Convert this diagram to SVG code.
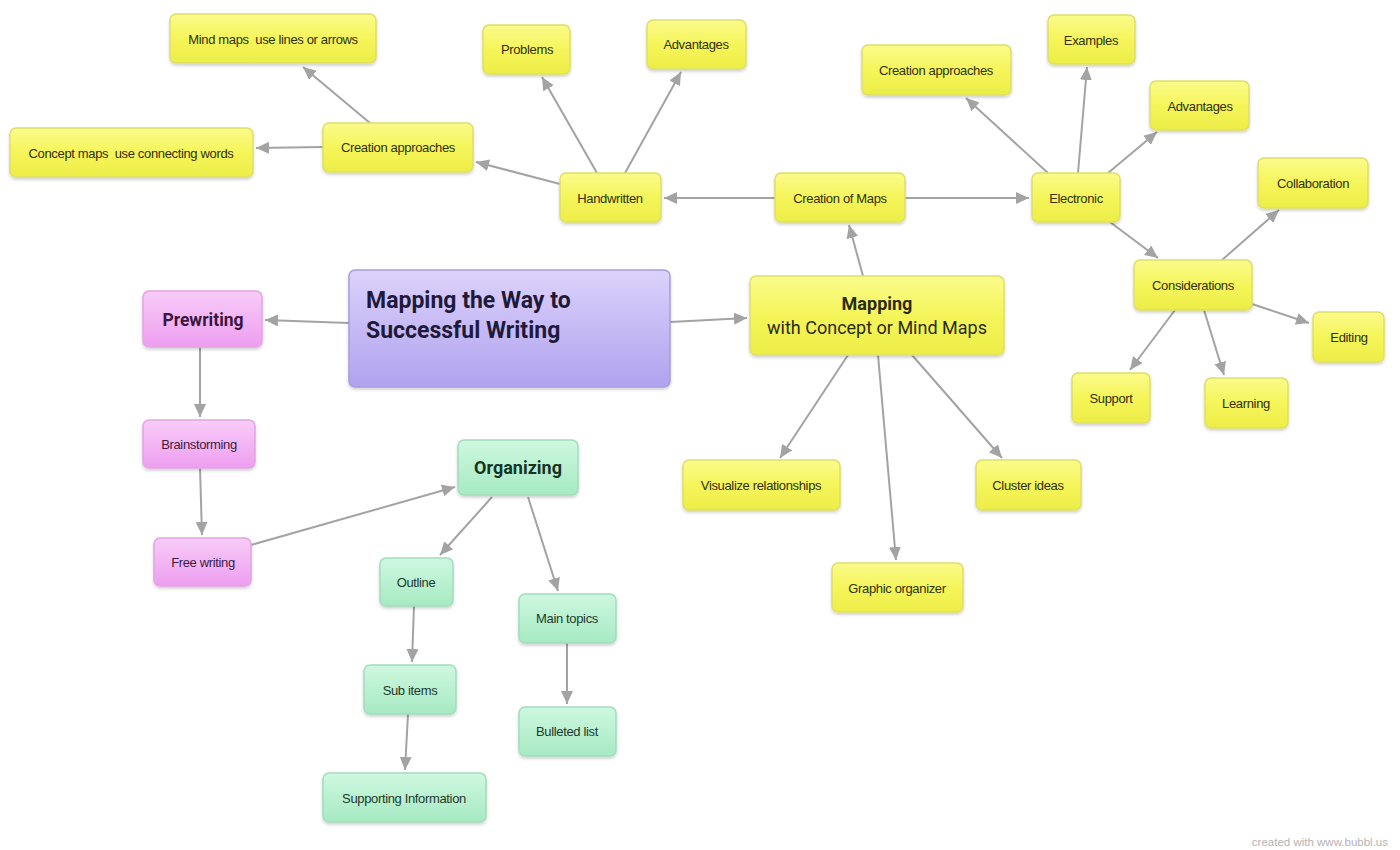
<svg xmlns="http://www.w3.org/2000/svg" width="1400" height="850" viewBox="0 0 1400 850">
<defs>
<linearGradient id="gy" x1="0" y1="0" x2="0" y2="1"><stop offset="0" stop-color="#fbfb8c"/><stop offset="0.5" stop-color="#f5f55a"/><stop offset="1" stop-color="#eded48"/></linearGradient>
<linearGradient id="gp" x1="0" y1="0" x2="0" y2="1"><stop offset="0" stop-color="#dcd2fb"/><stop offset="1" stop-color="#b0a2ee"/></linearGradient>
<linearGradient id="gk" x1="0" y1="0" x2="0" y2="1"><stop offset="0" stop-color="#f8ccf8"/><stop offset="1" stop-color="#ee9ef0"/></linearGradient>
<linearGradient id="gg" x1="0" y1="0" x2="0" y2="1"><stop offset="0" stop-color="#cef8e0"/><stop offset="1" stop-color="#a6eac2"/></linearGradient>
<filter id="sh" x="-10%" y="-10%" width="130%" height="140%"><feDropShadow dx="0" dy="2" stdDeviation="1.5" flood-color="#000" flood-opacity="0.18"/></filter>
<marker id="ah" markerUnits="userSpaceOnUse" markerWidth="14" markerHeight="12" refX="13" refY="6" orient="auto"><path d="M0,0 L13,6 L0,12 z" fill="#a3a3a3"/></marker>
<style>
.y{fill:url(#gy);stroke:#dede6a;stroke-width:1.5;filter:url(#sh)}
.p{fill:url(#gp);stroke:#a99ce0;stroke-width:1.5;filter:url(#sh)}
.k{fill:url(#gk);stroke:#e2a4e2;stroke-width:1.5;filter:url(#sh)}
.g{fill:url(#gg);stroke:#a4dcbc;stroke-width:1.5;filter:url(#sh)}
.t{font-family:"Liberation Sans",Arial,sans-serif;font-size:13px;letter-spacing:-0.35px;text-anchor:middle;dominant-baseline:central}
.ty{fill:#30300c}
.tk{fill:#3c1c3c}
.tg{fill:#1e3a2a}
.b{font-family:Roboto,"Liberation Sans",sans-serif;font-weight:bold}
.c line{stroke:#a3a3a3;stroke-width:2;marker-end:url(#ah)}
</style>
</defs>
<rect width="1400" height="850" fill="#ffffff"/>
<g class="c" id="connectors">
<line x1="349" y1="323" x2="265" y2="320"/>
<line x1="670" y1="322" x2="747" y2="318"/>
<line x1="863" y1="276" x2="849" y2="225"/>
<line x1="775" y1="198" x2="664" y2="198"/>
<line x1="905" y1="198" x2="1029" y2="198"/>
<line x1="560" y1="184" x2="476" y2="162"/>
<line x1="597" y1="173" x2="542" y2="77"/>
<line x1="625" y1="173" x2="681" y2="72"/>
<line x1="370" y1="123" x2="303" y2="67"/>
<line x1="323" y1="147" x2="256" y2="148"/>
<line x1="1048" y1="173" x2="966" y2="98"/>
<line x1="1078" y1="173" x2="1087" y2="67"/>
<line x1="1108" y1="173" x2="1157" y2="132"/>
<line x1="1110" y1="222" x2="1158" y2="258"/>
<line x1="1222" y1="260" x2="1279" y2="210"/>
<line x1="1252" y1="304" x2="1309" y2="323"/>
<line x1="1175" y1="310" x2="1130" y2="370"/>
<line x1="1204" y1="310" x2="1224" y2="375"/>
<line x1="848" y1="355" x2="780" y2="458"/>
<line x1="878" y1="355" x2="896" y2="560"/>
<line x1="912" y1="355" x2="1002" y2="458"/>
<line x1="200" y1="347" x2="200" y2="417"/>
<line x1="200" y1="468" x2="202" y2="535"/>
<line x1="251" y1="545" x2="455" y2="487"/>
<line x1="492" y1="497" x2="440" y2="555"/>
<line x1="528" y1="497" x2="558" y2="591"/>
<line x1="414" y1="606" x2="412" y2="662"/>
<line x1="567" y1="643" x2="567" y2="704"/>
<line x1="408" y1="714" x2="405" y2="770"/>
</g>
<g id="n-title"><rect class="p" x="349" y="270" width="321" height="117" rx="6"/><text class="b" font-size="23" fill="#1f1a3a" x="366" y="308">Mapping the Way to</text><text class="b" font-size="23" fill="#1f1a3a" x="366" y="338">Successful Writing</text></g>
<g id="n-mapping"><rect class="y" x="750" y="276" width="254" height="79" rx="6"/><text class="b" font-size="18" fill="#2a2a10" x="877" y="310" text-anchor="middle">Mapping</text><text font-family="Roboto,'Liberation Sans',sans-serif" font-size="18" fill="#2a2a10" x="877" y="334" text-anchor="middle">with Concept or Mind Maps</text></g>
<g id="n-creation"><rect class="y" x="775" y="173" width="130" height="49" rx="6"/><text class="t ty" x="840" y="198">Creation of Maps</text></g>
<g id="n-handwritten"><rect class="y" x="560" y="173" width="101" height="49" rx="6"/><text class="t ty" x="610" y="198">Handwritten</text></g>
<g id="n-ca-left"><rect class="y" x="323" y="123" width="150" height="49" rx="6"/><text class="t ty" x="398" y="147">Creation approaches</text></g>
<g id="n-mindmaps"><rect class="y" x="170" y="14" width="206" height="49" rx="6"/><text class="t ty" x="273" y="39" xml:space="preserve">Mind maps  use lines or arrows</text></g>
<g id="n-conceptmaps"><rect class="y" x="10" y="128" width="243" height="49" rx="6"/><text class="t ty" x="131" y="153" xml:space="preserve">Concept maps  use connecting words</text></g>
<g id="n-problems"><rect class="y" x="483" y="25" width="87" height="49" rx="6"/><text class="t ty" x="527" y="49">Problems</text></g>
<g id="n-adv-left"><rect class="y" x="647" y="20" width="99" height="49" rx="6"/><text class="t ty" x="696" y="44">Advantages</text></g>
<g id="n-electronic"><rect class="y" x="1032" y="173" width="88" height="49" rx="6"/><text class="t ty" x="1076" y="198">Electronic</text></g>
<g id="n-ca-right"><rect class="y" x="862" y="45" width="149" height="50" rx="6"/><text class="t ty" x="936" y="70">Creation approaches</text></g>
<g id="n-examples"><rect class="y" x="1048" y="15" width="87" height="49" rx="6"/><text class="t ty" x="1091" y="40">Examples</text></g>
<g id="n-adv-right"><rect class="y" x="1150" y="81" width="99" height="49" rx="6"/><text class="t ty" x="1200" y="106">Advantages</text></g>
<g id="n-collab"><rect class="y" x="1258" y="158" width="110" height="50" rx="6"/><text class="t ty" x="1313" y="183">Collaboration</text></g>
<g id="n-consider"><rect class="y" x="1134" y="260" width="118" height="50" rx="6"/><text class="t ty" x="1193" y="285">Considerations</text></g>
<g id="n-editing"><rect class="y" x="1313" y="312" width="71" height="50" rx="6"/><text class="t ty" x="1349" y="337">Editing</text></g>
<g id="n-support"><rect class="y" x="1072" y="373" width="78" height="50" rx="6"/><text class="t ty" x="1111" y="398">Support</text></g>
<g id="n-learning"><rect class="y" x="1205" y="378" width="83" height="50" rx="6"/><text class="t ty" x="1246" y="403">Learning</text></g>
<g id="n-visualize"><rect class="y" x="683" y="460" width="157" height="50" rx="6"/><text class="t ty" x="761" y="485">Visualize relationships</text></g>
<g id="n-cluster"><rect class="y" x="976" y="460" width="105" height="50" rx="6"/><text class="t ty" x="1028" y="485">Cluster ideas</text></g>
<g id="n-graphic"><rect class="y" x="832" y="563" width="131" height="49" rx="6"/><text class="t ty" x="897" y="588">Graphic organizer</text></g>
<g id="n-prewriting"><rect class="k" x="143" y="291" width="119" height="56" rx="6"/><text class="b" font-size="17.5" fill="#3a1640" x="203" y="320" text-anchor="middle" dominant-baseline="central">Prewriting</text></g>
<g id="n-brainstorming"><rect class="k" x="143" y="420" width="112" height="48" rx="6"/><text class="t tk" x="199" y="444">Brainstorming</text></g>
<g id="n-freewriting"><rect class="k" x="154" y="538" width="97" height="48" rx="6"/><text class="t tk" x="203" y="562">Free writing</text></g>
<g id="n-organizing"><rect class="g" x="458" y="440" width="120" height="55" rx="6"/><text class="b" font-size="18" fill="#163424" x="518" y="467" text-anchor="middle" dominant-baseline="central">Organizing</text></g>
<g id="n-outline"><rect class="g" x="380" y="558" width="73" height="48" rx="6"/><text class="t tg" x="416" y="582">Outline</text></g>
<g id="n-maintopics"><rect class="g" x="519" y="594" width="97" height="49" rx="6"/><text class="t tg" x="567" y="618">Main topics</text></g>
<g id="n-subitems"><rect class="g" x="364" y="665" width="92" height="49" rx="6"/><text class="t tg" x="410" y="690">Sub items</text></g>
<g id="n-bulleted"><rect class="g" x="519" y="707" width="97" height="49" rx="6"/><text class="t tg" x="567" y="731">Bulleted list</text></g>
<g id="n-supporting"><rect class="g" x="323" y="773" width="163" height="49" rx="6"/><text class="t tg" x="404" y="798">Supporting Information</text></g>
<text x="1388" y="846" font-family="'Liberation Sans',Arial,sans-serif" font-size="11.5" fill="#b4b4b4" text-anchor="end">created with www.bubbl.us</text>
</svg>
